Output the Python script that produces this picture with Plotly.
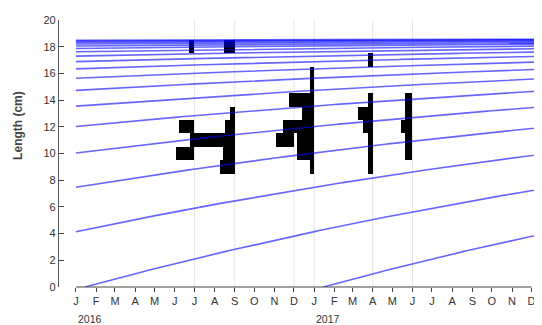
import numpy as np
import pandas as pd
import plotly.graph_objects as go

# ---------------- data ----------------
# von Bertalanffy growth parameters (as drawn in the chart)
Linf = 18.7          # cm
K = 0.26             # per year
birth_month_day = "01-15"   # cohort anchor (length 0)
cohort_years = list(range(1999, 2018))

# sampling dates (light grey vertical lines) and histogram bars (length class, bar length in days)
sample_dates = ["2016-07-01", "2016-09-01", "2016-12-01", "2017-01-01", "2017-04-01", "2017-06-01"]
jul16_bins = [10, 12, 18]
jul16_days = [28, 23, 8]
sep16_bins = [9, 10, 11, 12, 13, 18]
sep16_days = [23, 18, 69, 15, 8, 17]
dec16_bins = [11, 12]
dec16_days = [28, 17]
jan17_bins = [9, 10, 11, 12, 13, 14, 15, 16]
jan17_days = [6, 26, 26, 31, 18, 38, 6, 6]
apr17_bins = [9, 10, 11, 12, 13, 14, 17]
apr17_days = [8, 8, 8, 15, 22, 8, 7]
jun17_bins = [10, 11, 12, 13, 14]
jun17_days = [11, 11, 18, 11, 11]

month_ticks = pd.date_range("2016-01-01", "2017-12-01", freq="MS")
month_letters = ["J", "F", "M", "A", "M", "J", "J", "A", "S", "O", "N", "D"] * 2
year_labels = ["2016", "2017"]
year_positions = ["2016-01-01", "2017-01-01"]
y_ticks = list(range(0, 21, 2))

# ---------------- figure ----------------
fig = go.Figure()

samples = [
    (sample_dates[0], jul16_bins, jul16_days),
    (sample_dates[1], sep16_bins, sep16_days),
    (sample_dates[2], dec16_bins, dec16_days),
    (sample_dates[3], jan17_bins, jan17_days),
    (sample_dates[4], apr17_bins, apr17_days),
    (sample_dates[5], jun17_bins, jun17_days),
]
for d, bins, days in samples:
    d0 = pd.Timestamp(d)
    bases = [(d0 - pd.Timedelta(days=v)).strftime("%Y-%m-%d %H:%M:%S") for v in days]
    lengths_ms = [v * 86400000 for v in days]
    fig.add_trace(go.Bar(
        orientation="h", y=bins, x=lengths_ms, base=bases, width=1,
        marker=dict(color="black", line=dict(width=0)),
        showlegend=False, hoverinfo="skip",
    ))

# growth curves
t = pd.date_range("2016-01-01", "2017-12-31", freq="2D")
for yr in cohort_years:
    birth = pd.Timestamp(f"{yr}-{birth_month_day}")
    age = (t - birth).days / 365.25
    mask = age >= 0
    L = Linf * (1 - np.exp(-K * age[mask]))
    fig.add_trace(go.Scatter(
        x=t[mask], y=L, mode="lines",
        line=dict(color="rgba(0,0,255,0.6)", width=1.6),
        showlegend=False, hoverinfo="skip",
    ))

shapes = []
for d in sample_dates:
    shapes.append(dict(type="line", xref="x", yref="paper", x0=d, x1=d, y0=0, y1=1,
                       line=dict(color="#e6e6e6", width=1), layer="below"))
shapes.append(dict(type="line", xref="x", yref="paper", x0="2016-01-01", x1="2017-12-01",
                   y0=0, y1=0, line=dict(color="#444", width=1.2), layer="above"))

annotations = [
    dict(text="<b>Length (cm)</b>", textangle=-90, xref="paper", yref="paper",
         x=-0.085, y=0.607, showarrow=False, font=dict(family="Arial", size=12, color="#444"),
         xanchor="center", yanchor="middle"),
]
for lab, pos in zip(year_labels, year_positions):
    annotations.append(dict(text=lab, xref="x", yref="paper", x=pos, y=-0.118,
                            showarrow=False, xanchor="left", yanchor="middle",
                            font=dict(family="Arial", size=10.5, color="#333")))

# page body has an 8px margin: figure is 8px smaller so it fits the 542x325 window
fig.update_layout(
    width=534, height=317,
    margin=dict(l=51, r=0, t=12, b=38),
    paper_bgcolor="white", plot_bgcolor="white",
    barmode="overlay", bargap=0,
    shapes=shapes, annotations=annotations,
    xaxis=dict(type="date", range=["2015-12-06", "2017-12-17"],
               tickvals=month_ticks, ticktext=month_letters,
               ticks="outside", ticklen=4, tickcolor="#444", tickwidth=1,
               showgrid=False, showline=False, zeroline=False,
               tickfont=dict(family="Arial", size=11, color="#333")),
    yaxis=dict(range=[0, 20], tickvals=y_ticks, ticks="inside", ticklen=5,
               tickcolor="#444", showline=True, linecolor="#555", linewidth=1.2,
               showgrid=False, zeroline=False,
               tickfont=dict(family="Arial", size=11, color="#333")),
)

fig.write_html("out.html")
